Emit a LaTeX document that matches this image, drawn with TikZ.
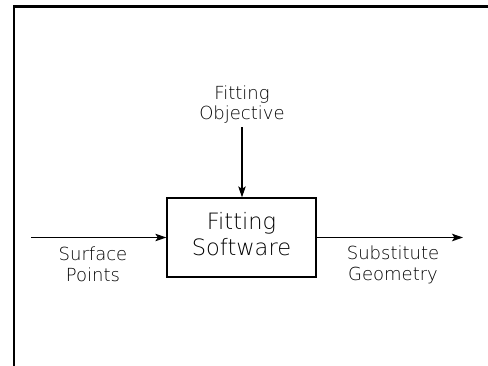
\documentclass[tikz,border=0pt]{standalone}
\usepackage{fontspec}
\setmainfont{DejaVu Sans ExtraLight}
\usetikzlibrary{arrows.meta}
\tikzset{
  lab/.style={font=\fontsize{18}{20}\selectfont, inner sep=0pt, anchor=base},
  boxtxt/.style={font=\fontsize{22.5}{25}\selectfont, inner sep=0pt, anchor=base},
  flow/.style={line width=1.1pt, -{Stealth[length=11pt,width=7.5pt,inset=2.5pt]}},
  frame/.style={line width=2.5pt},
  procbox/.style={draw, line width=1.3pt, minimum width=149pt, minimum height=79pt, inner sep=0pt}
}
\begin{document}
\begin{tikzpicture}[x=1pt,y=1pt]
\useasboundingbox (0,0) rectangle (488,-365);
\draw[frame] (14,-366) -- (14,-6.3) -- (489,-6.3);
\node[procbox] (box) at (241.5,-237.5) {};
\node[boxtxt] (bt1) at (241.5,-229.5) {Fitting};
\node[boxtxt] (bt2) at (241.5,-255) {Software};
\node[lab] (fo1) at (242,-99) {Fitting};
\node[lab] (fo2) at (242,-119) {Objective};
\node[lab] (sp1) at (93,-260.5) {Surface};
\node[lab] (sp2) at (93,-281.5) {Points};
\node[lab] (sg1) at (393,-259.5) {Substitute};
\node[lab] (sg2) at (393,-280.5) {Geometry};
\coordinate (inL) at (31,-237.5);
\coordinate (outR) at (463,-237.5);
\coordinate (inT) at (242,-127);
\draw[flow] (inL) -- (box.west);
\draw[flow] (box.east) -- (outR);
\draw[flow] (inT) -- (inT |- box.north);
\end{tikzpicture}
\end{document}
